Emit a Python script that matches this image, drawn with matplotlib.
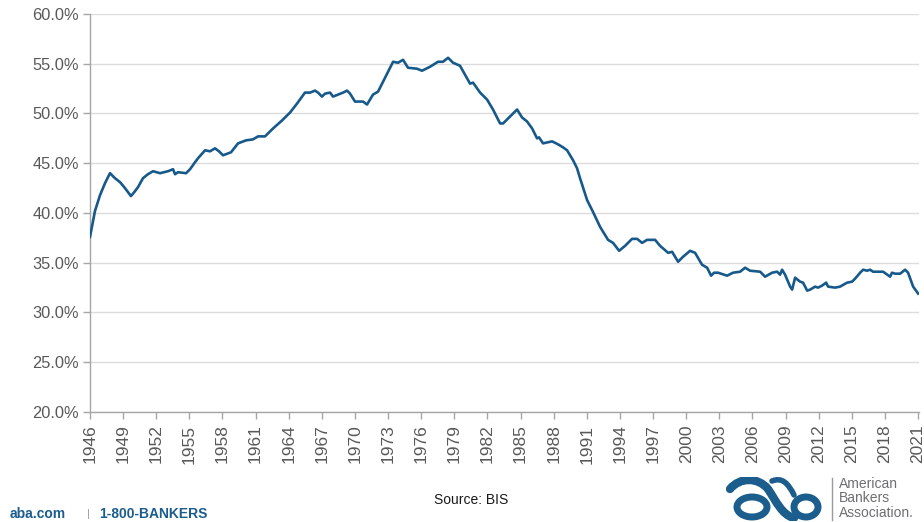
import matplotlib
matplotlib.use("Agg")
import matplotlib.pyplot as plt
from matplotlib.patches import Ellipse, PathPatch
from matplotlib.path import Path
from matplotlib.ticker import FuncFormatter

plt.rcParams['font.family'] = ['Liberation Sans', 'DejaVu Sans']

# Observation dates (decimal years) and ratio in percent
years = [
    1946.00, 1946.45, 1946.91, 1947.36, 1947.81, 1948.26, 1948.72, 1949.17, 1949.71, 1950.08,
    1950.35, 1950.80, 1951.25, 1951.71, 1952.34, 1953.07, 1953.52, 1953.70, 1953.97, 1954.70,
    1955.06, 1955.51, 1955.78, 1956.42, 1956.87, 1957.32, 1957.68, 1958.05, 1958.77, 1959.41,
    1960.13, 1960.76, 1961.22, 1961.85, 1962.58, 1963.39, 1964.12, 1964.75, 1965.47, 1965.93,
    1966.38, 1966.65, 1967.01, 1967.29, 1967.74, 1968.01, 1968.46, 1968.92, 1969.28, 1969.55,
    1970.00, 1970.73, 1971.09, 1971.63, 1972.09, 1972.54, 1973.17, 1973.45, 1973.90, 1974.35,
    1974.80, 1975.62, 1976.07, 1976.80, 1977.52, 1977.97, 1978.43, 1978.88, 1979.51, 1979.97,
    1980.42, 1980.69, 1981.33, 1981.96, 1982.50, 1983.14, 1983.41, 1984.04, 1984.68, 1985.13,
    1985.58, 1986.04, 1986.49, 1986.67, 1987.03, 1987.85, 1988.39, 1988.84, 1989.21, 1989.75,
    1990.11, 1990.38, 1991.02, 1991.56, 1992.20, 1992.92, 1993.37, 1993.92, 1994.46, 1995.09,
    1995.55, 1996.00, 1996.45, 1997.18, 1997.63, 1998.36, 1998.72, 1999.26, 1999.71, 2000.35,
    2000.80, 2001.43, 2001.89, 2002.25, 2002.52, 2002.88, 2003.70, 2004.24, 2004.88, 2005.33,
    2005.78, 2006.69, 2007.14, 2007.78, 2008.23, 2008.50, 2008.68, 2008.95, 2009.41, 2009.59,
    2009.86, 2010.31, 2010.58, 2010.95, 2011.22, 2011.67, 2011.94, 2012.30, 2012.67, 2012.85,
    2013.48, 2013.93, 2014.57, 2015.02, 2015.29, 2015.75, 2016.02, 2016.38, 2016.65, 2016.92,
    2017.83, 2018.46, 2018.64, 2018.92, 2019.37, 2019.82, 2020.09, 2020.55, 2021.00,
]
ratio = [
    37.6, 40.2, 41.8, 43.0, 44.0, 43.5, 43.1, 42.5, 41.7, 42.2,
    42.6, 43.5, 43.9, 44.2, 44.0, 44.2, 44.4, 43.9, 44.1, 44.0,
    44.4, 45.1, 45.5, 46.3, 46.2, 46.5, 46.2, 45.8, 46.1, 47.0,
    47.3, 47.4, 47.7, 47.7, 48.5, 49.3, 50.1, 51.0, 52.1, 52.1,
    52.3, 52.1, 51.7, 52.0, 52.1, 51.7, 51.9, 52.1, 52.3, 52.0,
    51.2, 51.2, 50.9, 51.9, 52.2, 53.2, 54.6, 55.2, 55.1, 55.4,
    54.6, 54.5, 54.3, 54.7, 55.2, 55.2, 55.6, 55.1, 54.8, 53.9,
    53.0, 53.1, 52.1, 51.4, 50.4, 49.0, 49.0, 49.7, 50.4, 49.6,
    49.2, 48.5, 47.5, 47.6, 47.0, 47.2, 46.9, 46.6, 46.3, 45.3,
    44.5, 43.5, 41.3, 40.1, 38.6, 37.3, 37.0, 36.2, 36.7, 37.4,
    37.4, 37.0, 37.3, 37.3, 36.7, 36.0, 36.1, 35.1, 35.6, 36.2,
    36.0, 34.8, 34.5, 33.7, 34.0, 34.0, 33.7, 34.0, 34.1, 34.5,
    34.2, 34.1, 33.6, 34.0, 34.1, 33.8, 34.3, 33.8, 32.6, 32.3,
    33.5, 33.1, 33.0, 32.2, 32.3, 32.6, 32.5, 32.7, 33.0, 32.6,
    32.5, 32.6, 33.0, 33.1, 33.4, 34.0, 34.3, 34.2, 34.3, 34.1,
    34.1, 33.6, 34.0, 33.9, 33.9, 34.3, 34.0, 32.6, 31.9,
]

tick_years = list(range(1946, 2022, 3))
y_ticks = [20, 25, 30, 35, 40, 45, 50, 55, 60]

LINE_BLUE = '#17598a'
TEXT_GRAY = '#595959'
ABA_BLUE = '#1b5d8c'

W, H = 924, 522
fig = plt.figure(figsize=(W / 100, H / 100), dpi=100)
ax = fig.add_axes([90 / W, 1 - 412 / H, (919 - 90) / W, (412 - 14) / H])

ax.plot(years, ratio, color=LINE_BLUE, lw=1.9, solid_joinstyle='round', zorder=3)

ax.set_xlim(1946, 2021.08)
ax.set_ylim(20, 60)
ax.set_yticks(y_ticks)
ax.yaxis.set_major_formatter(FuncFormatter(lambda v, p: f"{v:.1f}%"))
ax.set_xticks(tick_years)
ax.set_xticklabels([str(y) for y in tick_years], rotation=90)

ax.grid(axis='y', color='#dcdcdc', lw=1.0, zorder=0)
for side in ('top', 'right'):
    ax.spines[side].set_visible(False)
for side in ('left', 'bottom'):
    ax.spines[side].set_color('#a6a6a6')
    ax.spines[side].set_linewidth(1.0)
ax.tick_params(axis='both', colors='#a6a6a6', length=5, width=1.0, direction='out',
               labelcolor=TEXT_GRAY)
ax.tick_params(axis='y', pad=3, labelsize=11.8)
ax.tick_params(axis='x', pad=4, labelsize=12.5)

# Footer text
fig.text(10 / W, 1 - 514 / H, "aba.com", color=ABA_BLUE, fontsize=10, fontweight='bold',
         va='center', ha='left')
fig.text(88 / W, 1 - 514 / H, "|", color='#9a9a9a', fontsize=8, va='center', ha='center')
fig.text(99 / W, 1 - 514 / H, "1-800-BANKERS", color=ABA_BLUE, fontsize=10, fontweight='bold',
         va='center', ha='left')
fig.text(434 / W, 1 - 500 / H, "Source: BIS", color='#1a1a1a', fontsize=10,
         va='center', ha='left')

# Association mark
lax = fig.add_axes([726 / W, 1 - 521 / H, 96 / W, 44 / H])
lax.set_xlim(0, 96)
lax.set_ylim(0, 44)
lax.set_aspect('equal')
lax.axis('off')
lax.add_patch(Ellipse((26, 14), 30, 20, fill=False, ec=ABA_BLUE, lw=5.0))
lax.add_patch(Ellipse((80, 14), 24, 20, fill=False, ec=ABA_BLUE, lw=5.0))
swoosh1 = Path([(4, 32), (14, 44), (32, 44), (42, 32), (50, 20), (56, 6), (68, 3)],
               [Path.MOVETO, Path.CURVE4, Path.CURVE4, Path.CURVE4, Path.CURVE4,
                Path.CURVE4, Path.CURVE4])
lax.add_patch(PathPatch(swoosh1, fill=False, ec=ABA_BLUE, lw=6, capstyle='round'))
swoosh2 = Path([(46, 40), (56, 44), (62, 38), (68, 26)],
               [Path.MOVETO, Path.CURVE4, Path.CURVE4, Path.CURVE4])
lax.add_patch(PathPatch(swoosh2, fill=False, ec=ABA_BLUE, lw=4, capstyle='round'))

fig.add_artist(plt.Line2D([832 / W, 832 / W], [1 - 520 / H, 1 - 478 / H],
                          color='#9a9a9a', lw=1.0))
for i, word in enumerate(["American", "Bankers", "Association."]):
    fig.text(839 / W, 1 - (484 + i * 14.5) / H, word, color='#6d6e71', fontsize=10,
             va='center', ha='left')

fig.savefig("out.png", dpi=100)
